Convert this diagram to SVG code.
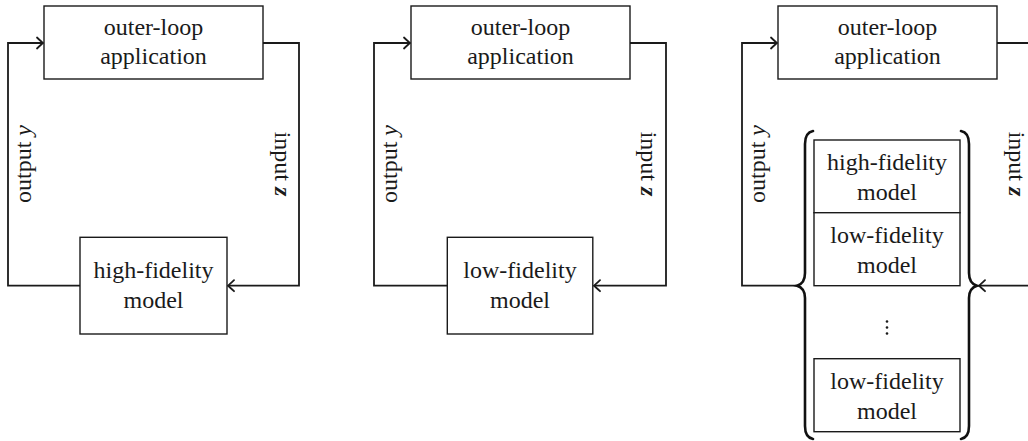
<svg xmlns="http://www.w3.org/2000/svg" width="1028" height="441" viewBox="0 0 1028 441" font-family="Liberation Serif, DejaVu Serif, serif">
<style>
.box{fill:#fff;stroke:#1a1a1a;stroke-width:1.4}
.wire{fill:none;stroke:#1a1a1a;stroke-width:1.8}
.brace{fill:none;stroke:#111;stroke-width:2.6;stroke-linecap:round}
text{font-size:24px;fill:#1a1a1a;text-anchor:middle}
.m{font-style:italic}
.b{font-style:italic;font-weight:bold}
</style>
<defs>
<marker id="arr" markerUnits="userSpaceOnUse" markerWidth="12" markerHeight="14" viewBox="-8 -7 10 14" refX="0" refY="0" orient="auto">
<path d="M-6,-5.5 Q-1.5,-1.2 0,0 Q-1.5,1.2 -6,5.5" fill="none" stroke="#1a1a1a" stroke-width="1.8" stroke-linecap="round"/>
</marker>
</defs>
<rect width="1028" height="441" fill="#fff"/>
<g id="connectors">
<path class="wire" d="M80,285.7 H8 V43 H43" marker-end="url(#arr)"/>
<path class="wire" d="M263,43 H299 V285.7 H228" marker-end="url(#arr)"/>
<path class="wire" d="M447,285.7 H374 V43 H410" marker-end="url(#arr)"/>
<path class="wire" d="M630,43 H666 V285.7 H594" marker-end="url(#arr)"/>
<path class="wire" d="M797,285.7 H742 V43 H777" marker-end="url(#arr)"/>
<path class="wire" d="M997,43 H1033 V285.7 H979" marker-end="url(#arr)"/>
</g>
<g id="labels">
<text transform="translate(31,164) rotate(-90)">output <tspan class="m">y</tspan></text>
<text transform="translate(274.5,164) rotate(90)">input <tspan class="b">z</tspan></text>
<text transform="translate(397,164) rotate(-90)">output <tspan class="m">y</tspan></text>
<text transform="translate(641,164) rotate(90)">input <tspan class="b">z</tspan></text>
<text transform="translate(765,164) rotate(-90)">output <tspan class="m">y</tspan></text>
<text transform="translate(1008.5,164) rotate(90)">input <tspan class="b">z</tspan></text>
</g>
<g id="outer1">
<rect class="box" x="44" y="6" width="219" height="73"/>
<text x="153.5" y="35">outer-loop</text>
<text x="153.5" y="64">application</text>
</g>
<g id="hifi1">
<rect class="box" x="80" y="237.3" width="147" height="96.7"/>
<text x="153.5" y="278">high-fidelity</text>
<text x="153.5" y="308">model</text>
</g>
<g id="outer2">
<rect class="box" x="411" y="6" width="219" height="73"/>
<text x="520.5" y="35">outer-loop</text>
<text x="520.5" y="64">application</text>
</g>
<g id="lofi2">
<rect class="box" x="447.3" y="237.3" width="145.5" height="96.7"/>
<text x="520" y="278">low-fidelity</text>
<text x="520" y="308">model</text>
</g>
<g id="outer3">
<rect class="box" x="778" y="6" width="219" height="73"/>
<text x="887.5" y="35">outer-loop</text>
<text x="887.5" y="64">application</text>
</g>
<g id="ensemble">
<path class="brace" d="M813,131 Q805,132.5 805,144 L805,273 Q805,283.5 797,285.7 Q805,288 805,298 L805,426 Q805,437.5 813,439"/>
<path class="brace" d="M961,131 Q969,132.5 969,144 L969,273 Q969,283.5 977,285.7 Q969,288 969,298 L969,426 Q969,437.5 961,439"/>
<g id="hifi3">
<rect class="box" x="814" y="140" width="146" height="72.7"/>
<text x="887" y="170">high-fidelity</text>
<text x="887" y="200">model</text>
</g>
<g id="lofi3a">
<rect class="box" x="814" y="212.7" width="146" height="73"/>
<text x="887" y="243">low-fidelity</text>
<text x="887" y="273">model</text>
</g>
<g id="dots" fill="#1a1a1a">
<circle cx="887" cy="321.5" r="1.3"/>
<circle cx="887" cy="327.5" r="1.3"/>
<circle cx="887" cy="333.5" r="1.3"/>
</g>
<g id="lofi3b">
<rect class="box" x="814" y="358.7" width="146" height="73"/>
<text x="887" y="389">low-fidelity</text>
<text x="887" y="419">model</text>
</g>
</g>
</svg>
